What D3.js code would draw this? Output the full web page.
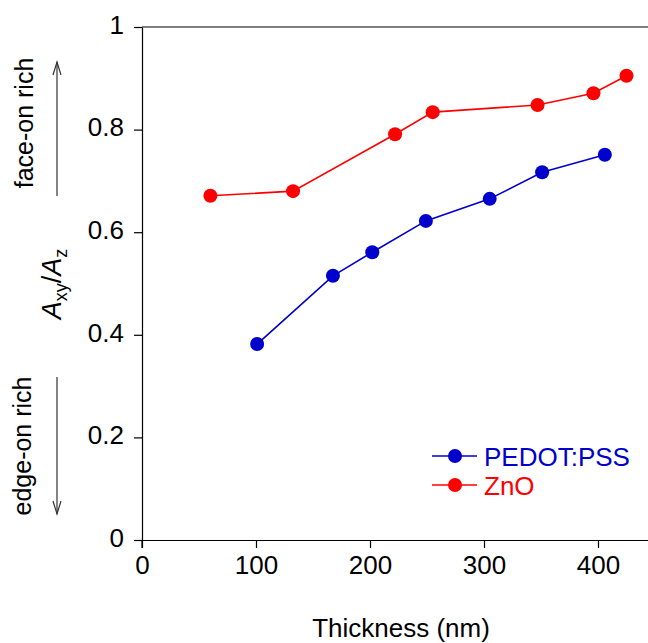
<!DOCTYPE html>
<html><head><meta charset="utf-8">
<script src="https://cdn.jsdelivr.net/npm/d3@7"></script>
<style>body{margin:0;background:#fff;} text{font-family:"Liberation Sans",Arial,sans-serif;}</style>
</head><body>
<svg id="c" width="648" height="643"></svg>
<script>
const seriesNames = ["PEDOT:PSS", "ZnO"];
const pedotX = [101, 167.5, 202, 249, 305, 351, 406];
const pedotY = [0.382, 0.515, 0.561, 0.622, 0.665, 0.717, 0.751];
const znoX = [60, 132.5, 222, 255, 347, 396, 425];
const znoY = [0.671, 0.680, 0.791, 0.834, 0.848, 0.871, 0.905];
const xTicks = [0, 100, 200, 300, 400];
const yTicks = [0, 0.2, 0.4, 0.6, 0.8, 1];
const colors = ["#0000CC", "#FF0000"];

const svg = d3.select("#c");
const x = d3.scaleLinear().domain([0, 450]).range([142, 655]);
const y = d3.scaleLinear().domain([0, 1]).range([540, 27]);

// top frame line
svg.append("line").attr("x1", 142).attr("x2", 648).attr("y1", y(1)).attr("y2", y(1))
  .attr("stroke", "#000").attr("stroke-width", 1.2);

const gx = svg.append("g").attr("transform", `translate(0,${y(0)})`)
  .call(d3.axisBottom(x).tickValues(xTicks).tickSize(8).tickSizeOuter(0).tickPadding(8).tickFormat(d3.format("d")));
const gy = svg.append("g").attr("transform", `translate(${x(0)},0)`)
  .call(d3.axisLeft(y).tickValues(yTicks).tickSize(8).tickSizeOuter(0).tickPadding(10)
    .tickFormat(d => d === 0 ? "0" : d === 1 ? "1" : d3.format(".1f")(d)));
[gx, gy].forEach(g => {
  g.selectAll("path.domain").attr("stroke", "#000").attr("stroke-width", 1.2);
  g.selectAll(".tick line").attr("stroke", "#000").attr("stroke-width", 1.2);
  g.selectAll(".tick text").attr("font-size", 26).attr("fill", "#000")
    .attr("font-family", "Liberation Sans, Arial, sans-serif");
});
gy.selectAll(".tick text").attr("dy", "0.24em");
// extend left spine down to the x tick length
svg.append("line").attr("x1", x(0)).attr("x2", x(0)).attr("y1", y(0)).attr("y2", y(0) + 8)
  .attr("stroke", "#000").attr("stroke-width", 1.2);

const data = [
  {name: seriesNames[0], xs: pedotX, ys: pedotY, color: colors[0]},
  {name: seriesNames[1], xs: znoX, ys: znoY, color: colors[1]}
];
const line = d3.line().x(d => x(d[0])).y(d => y(d[1]));
data.forEach(s => {
  const pts = s.xs.map((v, i) => [v, s.ys[i]]);
  svg.append("path").attr("d", line(pts)).attr("fill", "none")
    .attr("stroke", s.color).attr("stroke-width", 1.6);
  svg.selectAll(null).data(pts).enter().append("circle")
    .attr("cx", d => x(d[0])).attr("cy", d => y(d[1])).attr("r", 7).attr("fill", s.color);
});

// legend
data.forEach((s, i) => {
  const ly = 456 + i * 29;
  svg.append("line").attr("x1", 432).attr("x2", 477).attr("y1", ly).attr("y2", ly)
    .attr("stroke", s.color).attr("stroke-width", 1.6);
  svg.append("circle").attr("cx", 455).attr("cy", ly).attr("r", 7).attr("fill", s.color);
  svg.append("text").attr("x", 484).attr("y", ly + 10).attr("font-size", 26)
    .attr("fill", s.color).text(s.name);
});

// x title
svg.append("text").attr("x", 401).attr("y", 637).attr("text-anchor", "middle")
  .attr("font-size", 26).attr("fill", "#000").text("Thickness (nm)");

// y title A_xy / A_z
const yt = svg.append("text").attr("transform", "translate(61,284) rotate(-90)")
  .attr("text-anchor", "middle").attr("font-size", 27).attr("fill", "#000");
yt.append("tspan").attr("font-style", "italic").text("A");
yt.append("tspan").attr("font-size", 18).attr("dy", 6).text("xy");
yt.append("tspan").attr("dy", -6).text("/");
yt.append("tspan").attr("font-style", "italic").text("A");
yt.append("tspan").attr("font-size", 18).attr("dy", 6).text("z");

// side annotations
svg.append("text").attr("transform", "translate(33,123) rotate(-90)").attr("text-anchor", "middle")
  .attr("font-size", 25).attr("fill", "#000").text("face-on rich");
svg.append("text").attr("transform", "translate(31,446) rotate(-90)").attr("text-anchor", "middle")
  .attr("font-size", 25).attr("fill", "#000").text("edge-on rich");

function arrow(x0, yFrom, yTo) {
  svg.append("line").attr("x1", x0).attr("x2", x0).attr("y1", yFrom).attr("y2", yTo)
    .attr("stroke", "#333").attr("stroke-width", 1.2);
  const dir = yTo < yFrom ? 1 : -1;
  svg.append("path").attr("d", `M${x0 - 4},${yTo + dir * 13} L${x0},${yTo} L${x0 + 4},${yTo + dir * 13}`)
    .attr("fill", "none").attr("stroke", "#333").attr("stroke-width", 1.2);
}
arrow(57, 196, 62);
arrow(57, 377, 514);
</script>
</body></html>
